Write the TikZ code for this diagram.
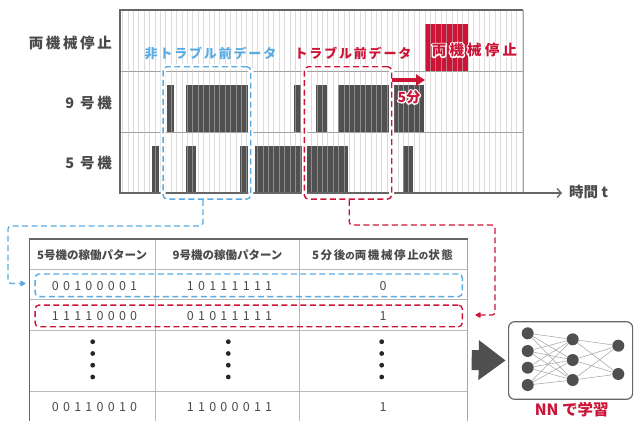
\documentclass[tikz,border=0pt]{standalone}
\usepackage{fontspec}
\setmainfont{Noto Sans CJK JP}
\usetikzlibrary{arrows.meta}
\definecolor{barc}{HTML}{505050}
\definecolor{myred}{HTML}{CC1436}
\definecolor{myblue}{HTML}{5AABE2}
\definecolor{txt}{HTML}{4A4A4A}
\definecolor{lined}{HTML}{666666}
\newcommand\halotext[1]{\leavevmode\rlap{\color{white}\special{pdf:literal direct 1 Tr 2.6 w 1 j 1 J}#1\special{pdf:literal direct 0 Tr}}#1}
\tikzset{
  gridl/.style={draw=gray!50, opacity=0.55, line width=0.7pt},
  rowl/.style={draw=gray!75, line width=0.8pt},
  dbox/.style={draw=#1, dash pattern=on 6pt off 3.5pt, line width=1.4pt, rounded corners=4pt, inner sep=0pt,
     preaction={draw=white, solid, line width=5pt}},
  rowbox/.style={draw=#1, dash pattern=on 6pt off 3.5pt, line width=1.4pt, rounded corners=4pt, inner sep=0pt},
  con/.style={draw=#1, dash pattern=on 6pt off 3.5pt, line width=1.3pt, rounded corners=3pt,
     -{Triangle[length=6pt,width=6pt,round]}},
  lbl/.style={text=txt, font=\bfseries\fontsize{14.5}{14.5}\selectfont\addfontfeature{LetterSpace=18}, inner sep=0pt},
  head/.style={text=txt, font=\bfseries\fontsize{11.5}{12}\selectfont, inner sep=0pt},
  cell/.style={text=txt, font=\fontsize{12.5}{12.5}\selectfont\addfontfeature{LetterSpace=34}, inner sep=0pt},
  tline/.style={draw=gray!55, line width=0.8pt},
  neuron/.style={circle, fill=barc, minimum size=12pt, inner sep=0pt},
  nnline/.style={draw=gray!70, line width=0.55pt},
}
\begin{document}
\begin{tikzpicture}[x=1pt,y=-1pt]
\useasboundingbox (0,0) rectangle (634,421);
% ---------- chart ----------
\draw[rowl] (120,71) -- (523,71);
\draw[rowl] (120,132) -- (523,132);
% 9 machine bars
\fill[barc] (166.7,85) rectangle (174,132);
\fill[barc] (185.7,85) rectangle (248.3,132);
\fill[barc] (294,85) rectangle (301,132);
\fill[barc] (316,85) rectangle (326.7,132);
\fill[barc] (337.7,85) rectangle (424.3,132);
% 5 machine bars
\fill[barc] (152.3,146) rectangle (159.3,193);
\fill[barc] (185.7,146) rectangle (195.7,193);
\fill[barc] (240,146) rectangle (248.3,193);
\fill[barc] (255,146) rectangle (348.3,193);
\fill[barc] (403.3,146) rectangle (413.3,193);
% stop bar
\fill[myred] (425,24) rectangle (467.7,71);
% grid
\foreach \i in {0,...,74} \draw[gridl] ({122.5+\i*5.4},10.5) -- ({122.5+\i*5.4},192.5);
% frame
\draw[draw=lined, line width=1.6pt] (120,193) -- (120,10) -- (523,10);
\draw[draw=gray!70, line width=1pt] (523,10) -- (523,193);
\coordinate (axend) at (562,193);
\draw[draw=lined, line width=1.3pt, -{Straight Barb[length=4pt,width=9pt]}] (119.2,193) -- (axend);
\node[text=txt, font=\bfseries\fontsize{14.5}{14.5}\selectfont, anchor=west, inner sep=0pt] (tlab) at (569,192) {時間 t};
% labels
\node[lbl, anchor=east] (l0) at (112,43) {両機械停止};
\node[lbl, anchor=east] (l9) at (112,103) {9 号機};
\node[lbl, anchor=east] (l5) at (112,163) {5 号機};
% dashed boxes
\node[dbox=myblue, minimum width=87.7pt, minimum height=132.3pt] (nbox) at (206.9,132.9) {};
\node[dbox=myred, minimum width=87.4pt, minimum height=132.3pt] (tbox) at (348,132.9) {};
\node[text=myblue, font=\bfseries\fontsize{13}{13}\selectfont\addfontfeature{LetterSpace=14}, inner sep=0pt] (nlab) at (210.5,53) {非トラブル前データ};
\node[text=myred, font=\bfseries\fontsize{13}{13}\selectfont\addfontfeature{LetterSpace=14}, inner sep=0pt] (tlab2) at (353,53) {トラブル前データ};
% 5 min arrow
\coordinate (fa) at (392,80);
\coordinate (fb) at (425,80);
\draw[draw=myred, line width=3.5pt, -{Triangle[length=9pt,width=11pt]}] (fa) -- (fb);
\node[text=myred, font=\bfseries\fontsize{14}{14}\selectfont, inner sep=0pt] (fmin) at (409,97) {\halotext{5分}};
\node[text=myred, font=\bfseries\fontsize{14.5}{14.5}\selectfont\addfontfeature{LetterSpace=22}, inner sep=0pt] (stoplab) at (474.5,50) {\halotext{両機械停止}};
% ---------- table ----------
\draw[tline] (29.3,269) -- (467.7,269);
\draw[tline] (29.3,299.3) -- (467.7,299.3);
\draw[tline] (29.3,330) -- (467.7,330);
\draw[tline] (29.3,391.7) -- (467.7,391.7);
\draw[tline] (155,239.3) -- (155,421);
\draw[tline] (299,239.3) -- (299,421);
\draw[draw=gray!70, line width=1pt] (467.7,239.3) -- (467.7,421);
\draw[draw=lined, line width=1.5pt] (29.3,421) -- (29.3,239.3);
\draw[draw=lined, line width=2pt] (28.55,239.3) -- (468.2,239.3);
\node[head] (h1) at (92.2,255) {5号機の稼働パターン};
\node[head] (h2) at (227.5,255) {9号機の稼働パターン};
\node[head, font=\bfseries\fontsize{11.5}{12}\selectfont\addfontfeature{LetterSpace=14}] (h3) at (382.5,255) {5分後{\fontsize{9.5}{9}\selectfont の}両機械停止{\fontsize{9.5}{9}\selectfont の}状態};
\node[cell] (c11) at (94.5,286) {00100001};
\node[cell] (c12) at (229.5,286) {10111111};
\node[cell] (c13) at (383,286) {0};
\node[cell] (c21) at (94.5,316.5) {11110000};
\node[cell] (c22) at (229.5,316.5) {01011111};
\node[cell] (c23) at (383,316.5) {1};
\node[cell] (c41) at (94.5,407) {00110010};
\node[cell] (c42) at (229.5,407) {11000011};
\node[cell] (c43) at (383,407) {1};
\foreach \x in {92.7,228.3,381.7}
  \foreach \y in {341.7,353.5,365.2,377}
    \fill[black!85] (\x,\y) circle (2.4pt);
\node[rowbox=myblue, minimum width=427.3pt, minimum height=22.7pt] (rb) at (248.7,285.3) {};
\node[rowbox=myred, minimum width=427.3pt, minimum height=21.7pt] (rr) at (248.7,315.9) {};
% connectors
\coordinate (b1) at (8,226);
\coordinate (btip) at (25.5,283.5);
\draw[con=myblue] ([xshift=-4pt]nbox.south) |- (b1) |- (btip);
\coordinate (r1) at (495,225);
\coordinate (rtip) at (475.5,315);
\draw[con=myred] ([xshift=1.3pt]tbox.south) |- (r1) |- (rtip);
% ---------- NN ----------
\node[draw=gray!80!black, line width=1.2pt, rounded corners=6pt, minimum width=124pt, minimum height=77.6pt, inner sep=0pt] (nn) at (570.6,360.5) {};
\coordinate (tright) at (471.7,360);
\draw[draw=barc, line width=20pt, -{Triangle[length=27pt,width=38pt]}, shorten >=2.3pt] (tright) -- (nn.west);
\node[neuron] (a1) at (527.7,333.3) {};
\node[neuron] (a2) at (527.7,351) {};
\node[neuron] (a3) at (527.7,367.7) {};
\node[neuron] (a4) at (527.7,385) {};
\node[neuron] (b1n) at (572.7,339.3) {};
\node[neuron] (b2n) at (572.7,360) {};
\node[neuron] (b3n) at (572.7,380) {};
\node[neuron] (c1n) at (618.3,345.7) {};
\node[neuron] (c2n) at (618.3,374) {};
\foreach \i in {1,2,3,4} \foreach \j in {1,2,3} \draw[nnline] (a\i) -- (b\j n);
\foreach \i in {1,2,3} \foreach \j in {1,2} \draw[nnline] (b\i n) -- (c\j n);
\node[text=myred, font=\bfseries\fontsize{15.5}{16}\selectfont, inner sep=0pt] (nnlab) at (571.7,410) {NN で学習};
\end{tikzpicture}
\end{document}
